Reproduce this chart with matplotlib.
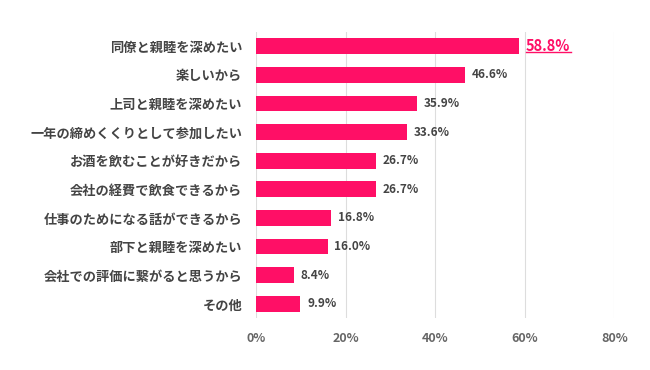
import matplotlib
matplotlib.use("Agg")
import matplotlib.pyplot as plt

plt.rcParams['font.family'] = ['Noto Sans CJK JP', 'DejaVu Sans']

categories = [
    "同僚と親睦を深めたい",
    "楽しいから",
    "上司と親睦を深めたい",
    "一年の締めくくりとして参加したい",
    "お酒を飲むことが好きだから",
    "会社の経費で飲食できるから",
    "仕事のためになる話ができるから",
    "部下と親睦を深めたい",
    "会社での評価に繋がると思うから",
    "その他",
]
values = [58.8, 46.6, 35.9, 33.6, 26.7, 26.7, 16.8, 16.0, 8.4, 9.9]
xticks = [0, 20, 40, 60, 80]

bar_color = "#FF0F66"
text_color = "#444444"

fig = plt.figure(figsize=(6.5, 3.7), dpi=100)
ax = fig.add_axes([0.394, 0.14, 0.551, 0.774])

y = list(range(len(categories)))
ax.barh(y, values, height=0.55, color=bar_color, zorder=3)
ax.set_ylim(len(categories) - 0.5, -0.5)
ax.set_xlim(0, 80)

ax.set_yticks(y)
ax.set_yticklabels(categories, fontsize=9.5, fontweight='bold', color=text_color)
ax.set_xticks(xticks)
ax.set_xticklabels([f"{t}%" for t in xticks], fontsize=9, fontweight='bold', color="#666666")
ax.tick_params(axis='both', length=0)
ax.tick_params(axis='y', pad=10)
ax.tick_params(axis='x', pad=10)

ax.grid(axis='x', color="#dddddd", linewidth=0.8, zorder=0)
for s in ax.spines.values():
    s.set_visible(False)

for i, v in enumerate(values):
    if i == 0:
        ax.text(v + 1.5, i, f"{v}%", va='center', ha='left', fontsize=10.5,
                fontweight='bold', color=bar_color)
        ax.plot([v + 1.5, v + 11.6], [i + 0.2, i + 0.2], color=bar_color, lw=1, zorder=4)
    else:
        ax.text(v + 1.5, i, f"{v}%", va='center', ha='left', fontsize=8.5,
                fontweight='bold', color=text_color)

fig.savefig("out.png", dpi=100)
